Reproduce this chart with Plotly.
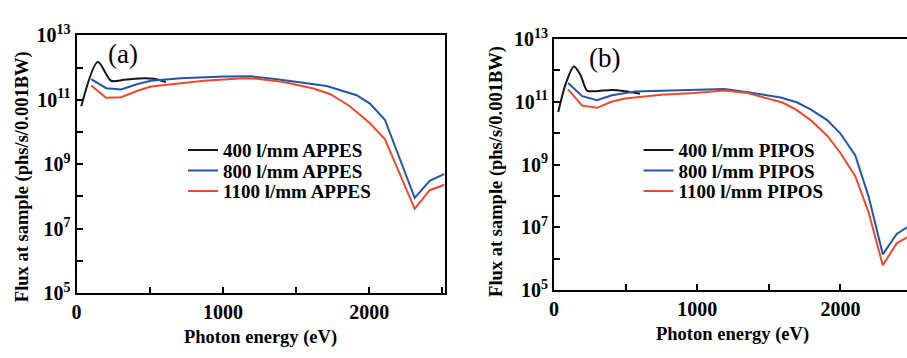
import plotly.graph_objects as go

# ---- data (a) APPES ----
a400_E = [32, 145, 236, 326, 462, 530, 610]
a400_F = [10.80, 12.17, 11.59, 11.62, 11.67, 11.65, 11.55]
a800_E = [100, 202, 304, 417, 508, 712, 1007, 1188, 1370, 1710, 1914, 2005, 2107, 2311, 2413, 2515]
a800_F = [11.64, 11.36, 11.32, 11.49, 11.59, 11.67, 11.72, 11.73, 11.64, 11.43, 11.14, 10.88, 10.38, 7.95, 8.48, 8.70]
a1100_E = [100, 202, 304, 417, 508, 712, 871, 1143, 1233, 1415, 1619, 1732, 1868, 2005, 2107, 2311, 2413, 2515]
a1100_F = [11.44, 11.06, 11.08, 11.28, 11.41, 11.52, 11.59, 11.67, 11.65, 11.55, 11.35, 11.18, 10.80, 10.27, 9.78, 7.61, 8.19, 8.36]

# ---- data (b) PIPOS ----
b400_E = [30, 81, 139, 185, 231, 289, 405, 497, 601]
b400_F = [10.68, 11.56, 12.13, 11.86, 11.36, 11.34, 11.38, 11.34, 11.26]
b800_E = [99, 197, 301, 405, 566, 751, 983, 1191, 1353, 1584, 1699, 1792, 1908, 2000, 2104, 2197, 2296, 2393, 2462, 2500]
b800_F = [11.60, 11.18, 11.05, 11.21, 11.33, 11.36, 11.40, 11.41, 11.31, 11.14, 10.98, 10.76, 10.42, 9.99, 9.29, 7.98, 6.14, 6.79, 6.99, 7.05]
b1100_E = [99, 197, 301, 405, 497, 751, 983, 1191, 1353, 1595, 1688, 1792, 1908, 2000, 2104, 2197, 2296, 2393, 2462, 2500]
b1100_F = [11.40, 10.88, 10.81, 11.01, 11.11, 11.23, 11.28, 11.36, 11.28, 10.98, 10.76, 10.42, 9.92, 9.37, 8.63, 7.48, 5.79, 6.49, 6.67, 6.72]

y_major = [10**k for k in range(5, 14, 2)]
y_major_text = ["10<sup>%d</sup>" % k for k in range(5, 14, 2)]
y_minor = [10**k for k in range(6, 13, 2)]
x_major = [0, 1000, 2000]
x_major_text = ["0", "1000", "2000"]
x_minor = [500, 1500, 2500]

BLACK = "#151515"
BLUE = "#2456a6"
RED = "#ec4a2c"
SERIF = "Liberation Serif"

W, H = 907, 358
fig = go.Figure()

def add(E, F, name, color, xa, ya, legend, shape="linear"):
    fig.add_trace(go.Scatter(
        x=E, y=[10**v for v in F], mode="lines", name=name,
        line=dict(color=color, width=2, shape=shape, smoothing=0.8), xaxis=xa, yaxis=ya,
        legend=legend))

add(a400_E, a400_F, "400 l/mm APPES", BLACK, "x", "y", "legend", "spline")
add(a800_E, a800_F, "800 l/mm APPES", BLUE, "x", "y", "legend2")
add(a1100_E, a1100_F, "1100 l/mm APPES", RED, "x", "y", "legend3")
add(b400_E, b400_F, "400 l/mm PIPOS", BLACK, "x2", "y2", "legend4", "spline")
add(b800_E, b800_F, "800 l/mm PIPOS", BLUE, "x2", "y2", "legend5")
add(b1100_E, b1100_F, "1100 l/mm PIPOS", RED, "x2", "y2", "legend6")

tickfont = dict(family=SERIF, size=20, color="black", weight="bold")
minor_common = dict(ticks="inside", ticklen=6, tickwidth=1.5, tickcolor="black", showgrid=False)

def xax(dom, rng, anchor):
    return dict(domain=dom, range=rng, tickmode="array", tickvals=x_major, ticktext=x_major_text,
                ticks="inside", ticklen=6, tickwidth=1.5, tickcolor="black",
                minor=dict(tickmode="array", tickvals=x_minor, **minor_common),
                showline=True, linecolor="black", linewidth=2, mirror=True,
                showgrid=False, zeroline=False, tickfont=tickfont, anchor=anchor)

def yax(dom, anchor, mirror):
    return dict(domain=dom, type="log", range=[5, 13], tickmode="array", tickvals=y_major,
                ticktext=y_major_text,
                ticks="inside", ticklen=6, tickwidth=1.5, tickcolor="black",
                minor=dict(tickmode="array", tickvals=y_minor, **minor_common),
                showline=True, linecolor="black", linewidth=2, mirror=mirror,
                showgrid=False, zeroline=False, tickfont=tickfont, anchor=anchor)

legfont = dict(family=SERIF, size=19, color="black", weight="bold")

def leg(xpx, ypx):
    return dict(x=xpx / W, y=1 - ypx / H, xanchor="left", yanchor="middle",
                bgcolor="rgba(0,0,0,0)", font=legfont, itemwidth=30)

row_y = [147, 169, 191]
fig.update_layout(
    width=W, height=H, margin=dict(l=0, r=0, t=0, b=0),
    paper_bgcolor="white", plot_bgcolor="white",
    xaxis=xax([72 / W, 442 / W], [0, 2515], "y"),
    yaxis=yax([1 - 300 / H, 1 - 24 / H], "x", True),
    xaxis2=xax([552 / W, 1.0], [0, 2465], "y2"),
    yaxis2=yax([1 - 297 / H, 1 - 28 / H], "x2", False),
    legend=leg(179, row_y[0]), legend2=leg(179, row_y[1]), legend3=leg(179, row_y[2]),
    legend4=leg(637, row_y[0]), legend5=leg(637, row_y[1]), legend6=leg(637, row_y[2]),
    showlegend=True,
)

annos = [
    dict(text="(a)", x=119 / W, y=1 - 44 / H, font=dict(family=SERIF, size=27, color="black")),
    dict(text="(b)", x=603 / W, y=1 - 48 / H, font=dict(family=SERIF, size=27, color="black")),
    dict(text="<b>Photon energy (eV)</b>", x=257 / W, y=1 - 348 / H, font=dict(family=SERIF, size=18.5, color="black")),
    dict(text="<b>Photon energy (eV)</b>", x=732 / W, y=1 - 345 / H, font=dict(family=SERIF, size=18.5, color="black")),
    dict(text="<b>Flux at sample (phs/s/0.001BW)</b>", x=17 / W, y=1 - 175 / H, textangle=-90,
         font=dict(family=SERIF, size=18.5, color="black")),
    dict(text="<b>Flux at sample (phs/s/0.001BW)</b>", x=494 / W, y=1 - 170 / H, textangle=-90,
         font=dict(family=SERIF, size=18.5, color="black")),
]
for a in annos:
    a.update(xref="paper", yref="paper", showarrow=False, xanchor="center", yanchor="middle")
    fig.add_annotation(**a)

fig.write_html("out.html",
               post_script="document.body.style.margin='0';document.body.style.overflow='hidden';")
